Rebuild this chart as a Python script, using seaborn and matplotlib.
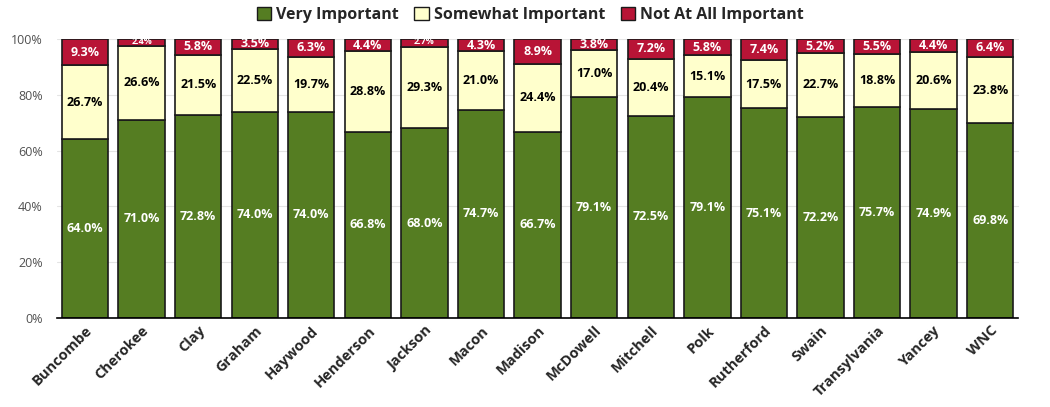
import pandas as pd
import seaborn as sns
import matplotlib.pyplot as plt
from matplotlib.patches import Patch

counties = ['Buncombe', 'Cherokee', 'Clay', 'Graham', 'Haywood', 'Henderson', 'Jackson',
            'Macon', 'Madison', 'McDowell', 'Mitchell', 'Polk', 'Rutherford', 'Swain',
            'Transylvania', 'Yancey', 'WNC']
very = [64.0, 71.0, 72.8, 74.0, 74.0, 66.8, 68.0, 74.7, 66.7, 79.1, 72.5, 79.1, 75.1, 72.2, 75.7, 74.9, 69.8]
somewhat = [26.7, 26.6, 21.5, 22.5, 19.7, 28.8, 29.3, 21.0, 24.4, 17.0, 20.4, 15.1, 17.5, 22.7, 18.8, 20.6, 23.8]
not_at_all = [9.3, 2.4, 5.8, 3.5, 6.3, 4.4, 2.7, 4.3, 8.9, 3.8, 7.2, 5.8, 7.4, 5.2, 5.5, 4.4, 6.4]

series = ['Very Important', 'Somewhat Important', 'Not At All Important']
colors = ['#557D22', '#FFFFCC', '#B81436']
text_colors = ['white', 'black', 'white']

df = pd.DataFrame({'county': counties, 'very': very, 'somewhat': somewhat, 'not': not_at_all})

sns.set_style('white')
plt.rcParams['font.family'] = ['Open Sans', 'DejaVu Sans']

fig, ax = plt.subplots(figsize=(10.5, 4.07), dpi=100)
fig.subplots_adjust(left=0.054, right=0.970, bottom=0.219, top=0.904)

bottom = [0.0] * len(df)
for col, name, c, tc in zip(['very', 'somewhat', 'not'], series, colors, text_colors):
    sns.barplot(data=df, x='county', y=col, bottom=bottom, color=c, width=0.82,
                edgecolor='#1a1a1a', linewidth=1.2, ax=ax, saturation=1)
    for i, v in enumerate(df[col]):
        fs = 6.5 if v < 3 else 9
        y = bottom[i] + v / 2
        if col == 'not' and v < 3:
            y += 0.4
        ax.text(i, y, f'{v:.1f}%', ha='center', va='center', color=tc,
                fontsize=fs, fontweight='bold')
    bottom = [b + v for b, v in zip(bottom, df[col])]

ax.set_ylim(0, 100)
ax.set_xlim(-0.5, len(df) - 0.5)
ax.set_yticks(range(0, 101, 20))
ax.set_yticklabels([f'{t}%' for t in range(0, 101, 20)], color='#505050', fontsize=9)
ax.yaxis.grid(True, color='#e4e4e4', linewidth=0.8)
ax.set_axisbelow(True)
ax.set_xlabel('')
ax.set_ylabel('')
ax.tick_params(axis='x', length=0, pad=4)
ax.tick_params(axis='y', length=0, pad=10)
plt.setp(ax.get_xticklabels(), rotation=45, ha='right', rotation_mode='anchor',
         fontsize=10.5, fontweight='bold')
for s in ['left', 'right', 'top']:
    ax.spines[s].set_visible(False)
ax.spines['bottom'].set_color('black')
ax.spines['bottom'].set_linewidth(1.2)

handles = [Patch(facecolor=c, edgecolor='#1a1a1a', label=n) for c, n in zip(colors, series)]
fig.legend(handles=handles, loc='center', bbox_to_anchor=(0.505, 0.963), ncol=3,
           frameon=False, handlelength=0.9, handleheight=0.9,
           handletextpad=0.3, columnspacing=1.0, prop={'weight': 'bold', 'size': 11.5})

fig.savefig('out.png', dpi=100)
